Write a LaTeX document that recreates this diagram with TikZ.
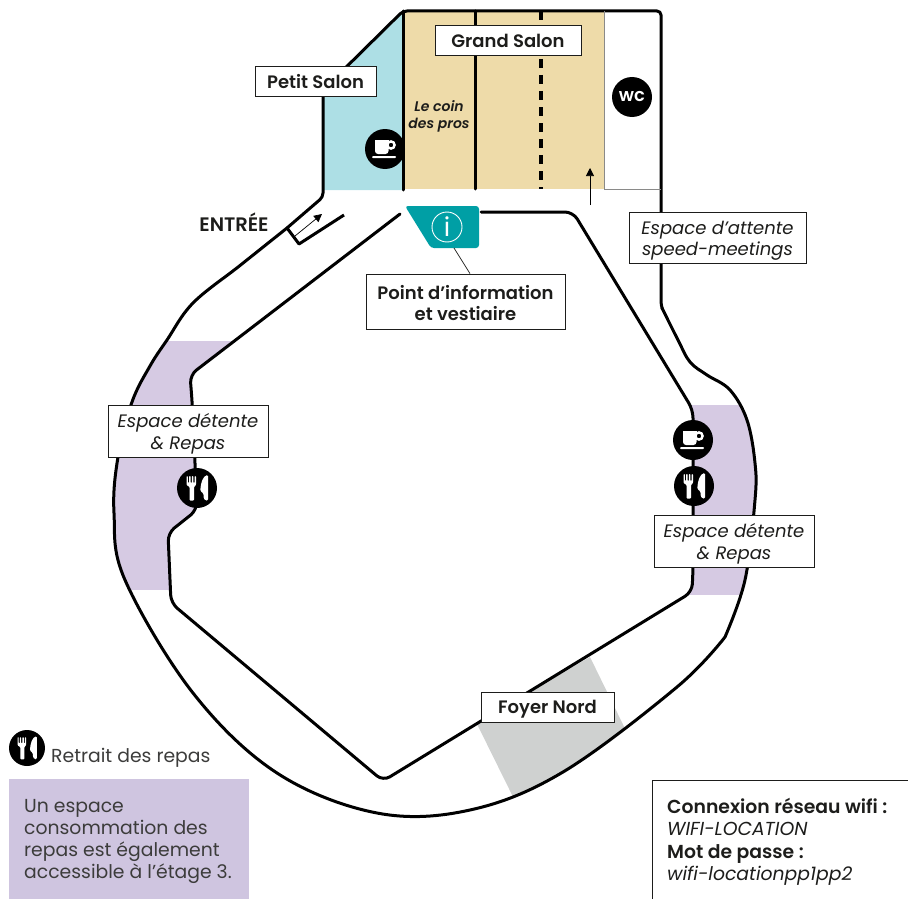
\documentclass[tikz,border=0pt]{standalone}
\usepackage{fontspec}
\setmainfont{Poppins}[BoldFont={Poppins SemiBold},BoldItalicFont={Poppins SemiBold Italic}]
\usetikzlibrary{arrows.meta}
\definecolor{tan}{HTML}{EEDBA9}
\definecolor{salonblue}{HTML}{ADDFE5}
\definecolor{lilac}{HTML}{D6CAE3}
\definecolor{lilacbox}{HTML}{CFC5E0}
\definecolor{foyer}{HTML}{CFD1D0}
\definecolor{teal}{HTML}{009FA5}
\definecolor{ink}{HTML}{1D1D1B}
\definecolor{soft}{HTML}{3C3C3B}
\newcommand\uprule{\rule{0pt}{20pt}}
\newcommand\uprulebold{\rule{0pt}{17.5pt}}
\tikzset{
  wall/.style={line width=3pt,draw=black,line cap=round,line join=round},
  lbl/.style={draw=ink,line width=0.8pt,fill=white,text=ink,inner sep=0pt,align=center,minimum height=30pt,
    font=\fontsize{18}{21.5}\selectfont\bfseries,
    execute at begin node={\rule{0pt}{18pt}},execute at end node={\rule[-3.6pt]{0pt}{0pt}}},
  lbltwo/.style={draw=ink,line width=0.8pt,fill=white,text=ink,inner sep=0pt,align=center,
    font=\fontsize{18}{21.5}\selectfont\bfseries},
  lbli/.style={lbltwo,font=\fontsize{18}{21.5}\selectfont\itshape},
  disc/.style={circle,fill=black,minimum size=40pt,inner sep=0pt},
  cupicon/.pic={
    \draw[white,line width=2.4pt] (6,-4) circle[radius=3.6];
    \fill[white,rounded corners=3pt] (-10,-9) rectangle (3.5,5);
    \fill[white] (-10,-9) rectangle (3.5,-3);
    \fill[white,rounded corners=1pt] (-13,7) rectangle (11,9.2);
  },
  cutlery/.pic={
    \fill[white,rounded corners=0.8pt] (-10.5,-12) -- (-9.2,-12) -- (-9.2,-5) -- (-8,-5) -- (-8,-12) -- (-6.4,-12) -- (-6.4,-5) -- (-5.2,-5) -- (-5.2,-12) -- (-3.6,-12) -- (-3.6,-5) -- (-2.4,-5) -- (-2.4,-12) -- (-1,-12) -- (-1,-3) -- (-3,-1) -- (-3,12.5) -- (-7.4,12.5) -- (-7.4,-1) -- (-10.5,-3) -- cycle;
    \fill[white,rounded corners=1.2pt] (11,-13) .. controls (6,-12) and (3.6,-5) .. (3.3,3) -- (6.5,5.5) -- (6.5,10) -- (8.5,12.5) -- (11,12.5) -- cycle;
  }
}
\def\outerwall{plot[smooth,tension=0.6] coordinates {(287,228) (240,265.5) (193,303) (167,340) (150,366) (132,402) (118,457) (114,513) (125,580) (193,693) (277,773) (377,813) (470,810) (563,772) (677,687) (725,637)} -- plot[smooth,tension=0.6] coordinates {(725,637) (745,580) (755,500) (755,463) (747,420) (730,390) (707,375) (690,362) (678,340) (662,308)}}
\def\innerwall{(400,214) -- (190,375) -- (192,400) -- (195,463) -- (197,510) -- (168,533) -- (171,603) -- (383,781) -- (692,592) -- (693,570) -- (693,410) -- (573,212) -- (481,212)}
\begin{document}
\begin{tikzpicture}[x=1pt,y=-1pt]
\useasboundingbox (0,0) rectangle (908,899);
% area fills
\fill[salonblue] (323,190) -- (323,90) -- (403,11) -- (403,190) -- cycle;
\fill[tan] (403,11) rectangle (604,189);
\begin{scope}
  \clip \outerwall -- (661,305) -- (661,11) -- (403,11) -- (323,90) -- (323,197) -- cycle;
  \fill[lilac] (100,341) rectangle (300,590);
  \fill[lilac] (680,405) rectangle (800,595);
  \fill[foyer] (590,657) -- (634,747) -- (520,811) -- (476,722) -- cycle;
\end{scope}
\fill[white,rounded corners=6pt] \innerwall -- cycle;
% walls
\draw[wall] \outerwall;
\draw[wall,rounded corners=4pt] (662,308) -- (661,305) -- (661,11) -- (403,11) -- (323,90) -- (323,197) -- (287,228);
\draw[wall,rounded corners=8pt] \innerwall;
\draw[wall] (403,11) -- (403,190);
\draw[wall] (475,11) -- (475,189);
\draw[line width=3.2pt,dash pattern=on 9pt off 7pt] (541,11) -- (541,189);
\draw[draw=soft!60,line width=0.9pt] (604,11) -- (604,189) -- (661,189);
\draw[wall,line cap=butt] (287,228) -- (299,244) -- (344,215);
% little arrows
\coordinate (doorA) at (295,236);
\coordinate (doorB) at (322,214);
\draw[line width=0.7pt,-{Triangle[length=8pt,width=8pt]}] (doorA) -- (doorB);
\coordinate (salonA) at (590,205);
\coordinate (salonB) at (590,168);
\draw[line width=0.7pt,-{Triangle[length=8pt,width=8pt]}] (salonA) -- (salonB);
% info desk
\fill[teal,rounded corners=3pt] (405,206) -- (479,206) -- (479,248) -- (431,248) -- cycle;
\coordinate (deskfoot) at (454,248);
\node[circle,draw=white,line width=0.9pt,minimum size=30pt,inner sep=0pt,text=white,font=\fontsize{26}{26}\selectfont] (infoi) at (447,227) {i};
% discs
\node[disc] (cup1) at (385,149) {};
\pic at (cup1) {cupicon};
\node[disc,text=white,font=\fontsize{18}{18}\selectfont\bfseries] (wc) at (632,97) {wc};
\node[disc] (cup2) at (693,440) {};
\pic at (cup2) {cupicon};
\node[disc] (eat1) at (694,486) {};
\pic at (eat1) {cutlery};
\node[disc] (eat2) at (197,488) {};
\pic at (eat2) {cutlery};
\node[disc,minimum size=36pt] (eat3) at (27,748) {};
\pic[scale=0.9] at (eat3) {cutlery};
% labels
\node[lbl,minimum width=121pt] (petit) at (315.5,81) {Petit Salon};
\node[lbl,minimum width=146pt] (grand) at (508,40) {Grand Salon};
\node[lbltwo,minimum width=199pt,minimum height=55pt] (info) at (465.5,301.5) {\uprulebold Point d’information\\et vestiaire};
\node[lbli,minimum width=177pt,minimum height=51pt] (attente) at (717.5,237.5) {\uprule Espace d’attente\\speed-meetings};
\node[lbli,minimum width=160pt,minimum height=52pt] (detL) at (188,431) {\uprule Espace détente\\\& Repas};
\node[lbli,minimum width=160pt,minimum height=52pt] (detR) at (734,541) {\uprule Espace détente\\\& Repas};
\node[lbl,minimum width=133pt] (foyerN) at (547.5,707) {Foyer Nord};
\draw[draw=ink,line width=0.7pt] (deskfoot) -- (info.north -| 470,0);
\node[text=ink,font=\fontsize{14}{17}\selectfont\bfseries\itshape,align=center,inner sep=0pt] (coin) at (439,116) {Le coin\\des pros};
\node[text=ink,font=\fontsize{19.5}{20}\selectfont\bfseries,inner sep=0pt] (entree) at (234,222) {ENTRÉE};
% legend
\node[anchor=west,text=soft,font=\fontsize{18.8}{20}\selectfont,inner sep=0pt] (retrait) at (51,758) {Retrait des repas};
\node[fill=lilacbox,minimum width=240pt,minimum height=120pt,inner sep=0pt] (boxlil) at (129,839) {};
\node[anchor=north west,text=soft,font=\fontsize{18.8}{22.2}\selectfont,align=left,inner sep=0pt] (lilt) at (24,799) {Un espace\\consommation des\\repas est également\\accessible à l’étage 3.};
% wifi
\coordinate (wifiA) at (652,899);
\coordinate (wifiB) at (652,780);
\coordinate (wifiC) at (908,780);
\draw[draw=ink,line width=0.8pt] (wifiA) -- (wifiB) -- (wifiC);
\node[anchor=north west,text=ink,font=\fontsize{18.8}{22.3}\selectfont,align=left,inner sep=0pt] (wifi) at (667,798) {\textbf{Connexion réseau wifi :}\\\textit{WIFI-LOCATION}\\\textbf{Mot de passe :}\\\textit{wifi-locationpp1pp2}};
\end{tikzpicture}
\end{document}
